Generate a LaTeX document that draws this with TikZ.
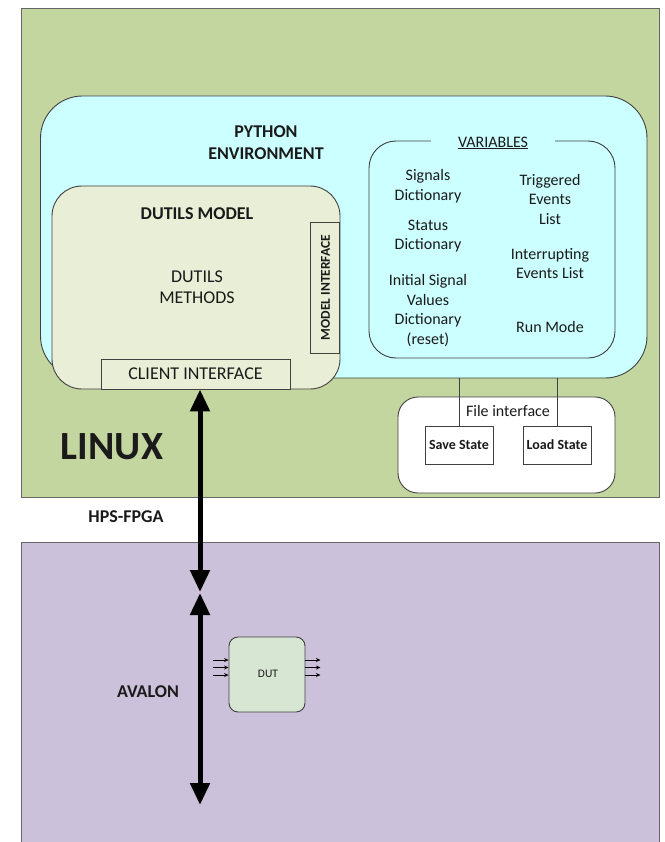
\documentclass[tikz,border=0pt]{standalone}
\usepackage{fontspec}
\setmainfont{Carlito}
\usetikzlibrary{arrows.meta,calc}

\definecolor{linuxgreen}{HTML}{C4D6A0}
\definecolor{fpgapurple}{HTML}{CCC1DA}
\definecolor{pycyan}{HTML}{CCFFFF}
\definecolor{modelfill}{HTML}{E9EED6}
\definecolor{dutfill}{HTML}{D6E6D3}
\definecolor{edge}{HTML}{404040}
\definecolor{ink}{HTML}{1A1A1A}

\tikzset{
  region/.style={draw=edge!80, line width=1pt, inner sep=0pt},
  roundbox/.style={draw=edge, line width=0.9pt, inner sep=0pt},
  plainbox/.style={draw=edge, line width=0.9pt, inner sep=0pt},
  txt/.style={text=ink, inner sep=0pt, align=center},
  hdr/.style={txt, font=\fontsize{18}{22}\selectfont\bfseries},
  body/.style={txt, font=\fontsize{18}{21}\selectfont},
  item/.style={txt, font=\fontsize{16}{19.5}\selectfont},
  smallbold/.style={txt, font=\fontsize{14}{16}\selectfont\bfseries},
  bus/.style={line width=5pt, {Triangle[width=19pt,length=22pt]}-{Triangle[width=19pt,length=22pt]}},
  pin/.style={line width=0.8pt, -{Stealth[length=4.5pt,width=4pt]}},
  wire/.style={draw=edge, line width=0.9pt}
}

\begin{document}
\begin{tikzpicture}[x=1pt,y=-1pt]
\useasboundingbox (0,0) rectangle (664,842);

% Linux side (processor)
\node[region, fill=linuxgreen, minimum width=637.5pt, minimum height=488.5pt] (linux) at (340.25,252.75) {};

% FPGA side, open at the bottom
\node[fill=fpgapurple, inner sep=0pt, minimum width=637.5pt, minimum height=310pt] (fpga) at (340.25,698) {};
\draw[draw=edge!80, line width=1pt] (fpga.south west) -- (fpga.north west) -- (fpga.north east) -- (fpga.south east);

% Python environment
\node[roundbox, fill=pycyan, rounded corners=42pt, minimum width=606.5pt, minimum height=282pt] (py) at (343.75,237) {};
\node[hdr] (pylabel) at (266,143) {PYTHON\\ENVIRONMENT};

% Variables
\node[roundbox, rounded corners=27pt, minimum width=246pt, minimum height=217pt] (vars) at (492,249.5) {};
\node[item, fill=pycyan, minimum width=124pt, inner ysep=1pt] (varlabel) at (493,143) {\underline{VARIABLES}};
\node[item] (sigdict) at (428,186) {Signals\\Dictionary};
\node[item] (statdict) at (428,236) {Status\\Dictionary};
\node[item] (initdict) at (428,310.5) {Initial Signal\\Values\\Dictionary\\(reset)};
\node[item] (trig) at (550,199.5) {Triggered\\Events\\List};
\node[item] (intr) at (550,263.5) {Interrupting\\Events List};
\node[item] (runmode) at (550,327) {Run Mode};

% DUTILS model
\node[roundbox, fill=modelfill, rounded corners=30pt, minimum width=288pt, minimum height=203pt] (dutils) at (196,287.5) {};
\node[hdr] (dutilslabel) at (197,214) {DUTILS MODEL};
\node[body] (methods) at (197,287.5) {DUTILS\\METHODS};
\node[plainbox, fill=modelfill, minimum width=29.5pt, minimum height=131pt] (modelif) at (324.75,287.5) {};
\node[txt, font=\fontsize{13.5}{16}\selectfont\bfseries, rotate=90] (modeliflabel) at (325.5,287.5) {MODEL INTERFACE};
\node[plainbox, fill=modelfill, minimum width=189pt, minimum height=30pt, font=\fontsize{18}{21}\selectfont, text=ink] (client) at (195.5,374) {CLIENT INTERFACE};

% File interface
\node[roundbox, fill=white, rounded corners=20pt, minimum width=217pt, minimum height=96pt] (fileif) at (506.5,445) {};
\node[item] (fileiflabel) at (508,411) {File interface};
\node[plainbox, fill=white, minimum width=68pt, minimum height=38pt, smallbold] (save) at (459,445) {Save State};
\node[plainbox, fill=white, minimum width=68pt, minimum height=38pt, smallbold] (load) at (557,445) {Load State};
\draw[wire] (save.north) -- (save.north |- py.south);
\draw[wire] (load.north) -- (load.north |- py.south);

% Region labels
\node[txt, font=\fontsize{40}{44}\selectfont\bfseries] (linuxlabel) at (112,447) {LINUX};
\node[hdr] (hpslabel) at (126,517) {HPS-FPGA};
\node[hdr] (avalonlabel) at (148,692) {AVALON};

% Device under test
\node[roundbox, fill=dutfill, rounded corners=9pt, minimum width=76pt, minimum height=75pt] (dut) at (267,674.5) {};
\node[txt, font=\fontsize{11.5}{13}\selectfont] (dutlabel) at (268,674) {DUT};
\foreach \dy in {14.5,7,-0.5}{
  \draw[pin] ([xshift=-16pt,yshift=\dy pt]dut.west) -- ([yshift=\dy pt]dut.west);
  \draw[pin] ([yshift=\dy pt]dut.east) -- ([xshift=15pt,yshift=\dy pt]dut.east);
}

% Buses
\coordinate (bridgeA) at (200,592);
\coordinate (bridgeB) at (200,593);
\coordinate (avalonEnd) at (200,805);
\draw[bus] (client.south -| bridgeA) -- (bridgeA);
\draw[bus] (bridgeB) -- (avalonEnd);
\end{tikzpicture}
\end{document}
